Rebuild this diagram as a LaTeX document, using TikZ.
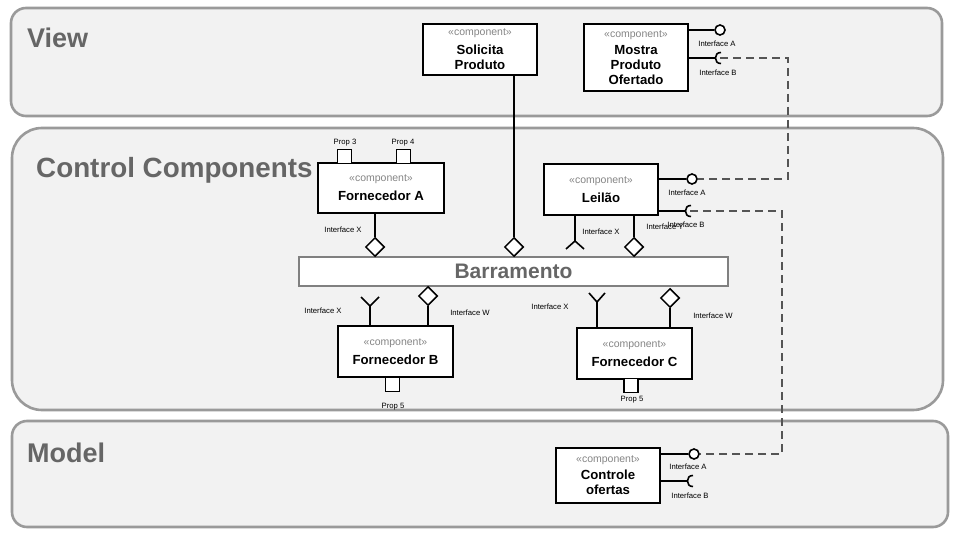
\documentclass[tikz,border=0pt]{standalone}
\usepackage{fontspec}
\setmainfont{Liberation Sans}
\usetikzlibrary{shapes.geometric,calc}
\definecolor{panelfill}{HTML}{F2F2F2}
\definecolor{panelline}{HTML}{9A9A9A}
\definecolor{titlegray}{HTML}{666666}
\definecolor{stgray}{HTML}{858585}
\definecolor{dashgray}{HTML}{555555}
\definecolor{busline}{HTML}{808080}
\newcommand\stereo{{\mdseries\fontsize{10.5}{12}\selectfont\color{stgray}«component»}}
\newcommand\socketarc[1]{\draw[conn] ($(#1)+(1,-5.5)$) .. controls ($(#1)+(-6.5,-6)$) and ($(#1)+(-6.5,6)$) .. ($(#1)+(1,5.5)$);}
\begin{document}
\begin{tikzpicture}[x=1pt,y=-1pt,
 panel/.style={draw=panelline, fill=panelfill, line width=2.6pt},
 title/.style={anchor=base west, text=titlegray, font=\fontsize{27}{30}\selectfont\bfseries, inner sep=0},
 comp/.style={draw, line width=1.5pt, fill=white, align=center, inner sep=0, font=\fontsize{13.2}{15}\selectfont\bfseries},
 conn/.style={line width=1.6pt},
 ball/.style={circle, draw, line width=1.6pt, fill=white, minimum size=10pt, inner sep=0},
 dia/.style={diamond, draw, line width=1.5pt, fill=white, minimum width=19pt, minimum height=19pt, inner sep=0},
 prop/.style={draw, line width=1.3pt, fill=white, minimum size=14pt, inner sep=0},
 lbl/.style={font=\fontsize{7.7}{9}\selectfont, inner sep=0},
 dep/.style={dashgray, line width=1.8pt, dash pattern=on 8pt off 5pt},
 bus/.style={draw=busline, line width=1.5pt, fill=white, inner sep=0, text=titlegray, font=\fontsize{21}{24}\selectfont\bfseries}]

\useasboundingbox (0,0) rectangle (960,540);

% layers
\path[panel, rounded corners=15pt] (11,8) rectangle (942,116);
\path[panel, rounded corners=30pt] (12,128) rectangle (943,410);
\path[panel, rounded corners=15pt] (12,421) rectangle (948,527);
\node[title] (tView) at (27,48) {View};
\node[title, font=\fontsize{27.8}{30}\selectfont\bfseries] (tCtrl) at (36,178) {Control Components};
\node[title] (tModel) at (27,462) {Model};

% dependency lines
\coordinate (mB) at (720,58);
\coordinate (lB) at (690,211);
\coordinate (cB) at (692,481);
\node[ball] (lA) at (692,179) {};
\node[ball] (cA) at (694,454) {};
\coordinate (d1) at (788,58);
\coordinate (d2) at (782,211);
\draw[dep] (mB) -- (d1) |- (lA.east);
\draw[dep] (lB) -- (d2) |- (cA.east);

% bus
\node[bus, minimum width=429pt, minimum height=29pt] (bus) at (513.5,271.5) {Barramento};

% components
\node[comp, minimum width=114pt, minimum height=51pt] (sol) at (480,49.5) {\stereo\\[4pt]Solicita\\Produto};
\node[comp, minimum width=104pt, minimum height=67pt] (mos) at (636,57.5) {\stereo\\[2pt]Mostra\\Produto\\Ofertado};
\node[comp, minimum width=126pt, minimum height=50pt] (fa) at (381,188) {\stereo\\[4pt]Fornecedor A};
\node[comp, minimum width=114pt, minimum height=51pt] (lei) at (601,189.5) {\stereo\\[4pt]Leilão};
\node[comp, minimum width=115pt, minimum height=51pt] (fb) at (395.5,351.5) {\stereo\\[4pt]Fornecedor B};
\node[comp, minimum width=115pt, minimum height=51pt] (fc) at (634.5,353.5) {\stereo\\[4pt]Fornecedor C};
\node[comp, minimum width=104pt, minimum height=55pt] (co) at (608,475.5) {\stereo\\[2pt]Controle\\ofertas};

% Solicita Produto -> bus
\node[dia] (dS) at (514,247) {};
\draw[conn] (dS.north |- sol.south) -- (dS.north);

% Mostra Produto Ofertado interfaces
\node[ball] (mA) at (720,30) {};
\draw[conn] (mos.east |- mA) -- (mA.west);
\draw[conn] (mos.east |- mB) -- ($(mB)+(-5,0)$);
\socketarc{mB}
\node[lbl] (lmA) at (717,44) {Interface A};
\node[lbl] (lmB) at (718,73) {Interface B};

% Fornecedor A
\node[prop] (p3) at (344.5,156.5) {};
\node[prop] (p4) at (403.5,156.5) {};
\node[lbl] (lp3) at (345,143) {Prop 3};
\node[lbl] (lp4) at (403,143) {Prop 4};
\node[dia] (dA) at (375,247) {};
\draw[conn] (dA.north |- fa.south) -- (dA.north);
\node[lbl] (lfaX) at (343,230) {Interface X};

% Leilao
\draw[conn] (lei.east |- lA) -- (lA.west);
\draw[conn] (lei.east |- lB) -- ($(lB)+(-5,0)$);
\socketarc{lB}
\coordinate (lX) at (575,241);
\draw[conn] (lX |- lei.south) -- (lX);
\draw[conn] ($(lX)+(-9,8)$) -- (lX) -- ($(lX)+(9,8)$);
\node[dia] (dY) at (634,247) {};
\draw[conn] (dY.north |- lei.south) -- (dY.north);
\node[lbl] (llA) at (687,193) {Interface A};
\node[lbl] (llY) at (665,227) {Interface Y};
\node[lbl] (llB) at (686,225) {Interface B};
\node[lbl] (llX) at (601,232) {Interface X};

% Fornecedor B
\coordinate (bX) at (370,306);
\draw[conn] (bX |- fb.north) -- (bX);
\draw[conn] ($(bX)+(-9,-9)$) -- (bX) -- ($(bX)+(9,-9)$);
\node[dia] (dBW) at (428,296) {};
\draw[conn] (dBW.south) -- (dBW.south |- fb.north);
\node[prop] (pB5) at (392.5,384.5) {};
\node[lbl] (lfbX) at (323,311) {Interface X};
\node[lbl] (lfbW) at (470,313) {Interface W};
\node[lbl] (lpB5) at (393,407) {Prop 5};

% Fornecedor C
\coordinate (cX) at (597,302);
\draw[conn] (cX |- fc.north) -- (cX);
\draw[conn] ($(cX)+(-8,-9)$) -- (cX) -- ($(cX)+(8,-9)$);
\node[dia] (dCW) at (670,298) {};
\draw[conn] (dCW.south) -- (dCW.south |- fc.north);
\node[prop] (pC5) at (631,385.5) {};
\node[lbl] (lfcX) at (550,307) {Interface X};
\node[lbl] (lfcW) at (713,316) {Interface W};
\node[lbl] (lpC5) at (632,400) {Prop 5};

% Controle ofertas
\draw[conn] (co.east |- cA) -- (cA.west);
\draw[conn] (co.east |- cB) -- ($(cB)+(-5,0)$);
\socketarc{cB}
\node[lbl] (lcA) at (688,467) {Interface A};
\node[lbl] (lcB) at (690,496) {Interface B};
\end{tikzpicture}
\end{document}
